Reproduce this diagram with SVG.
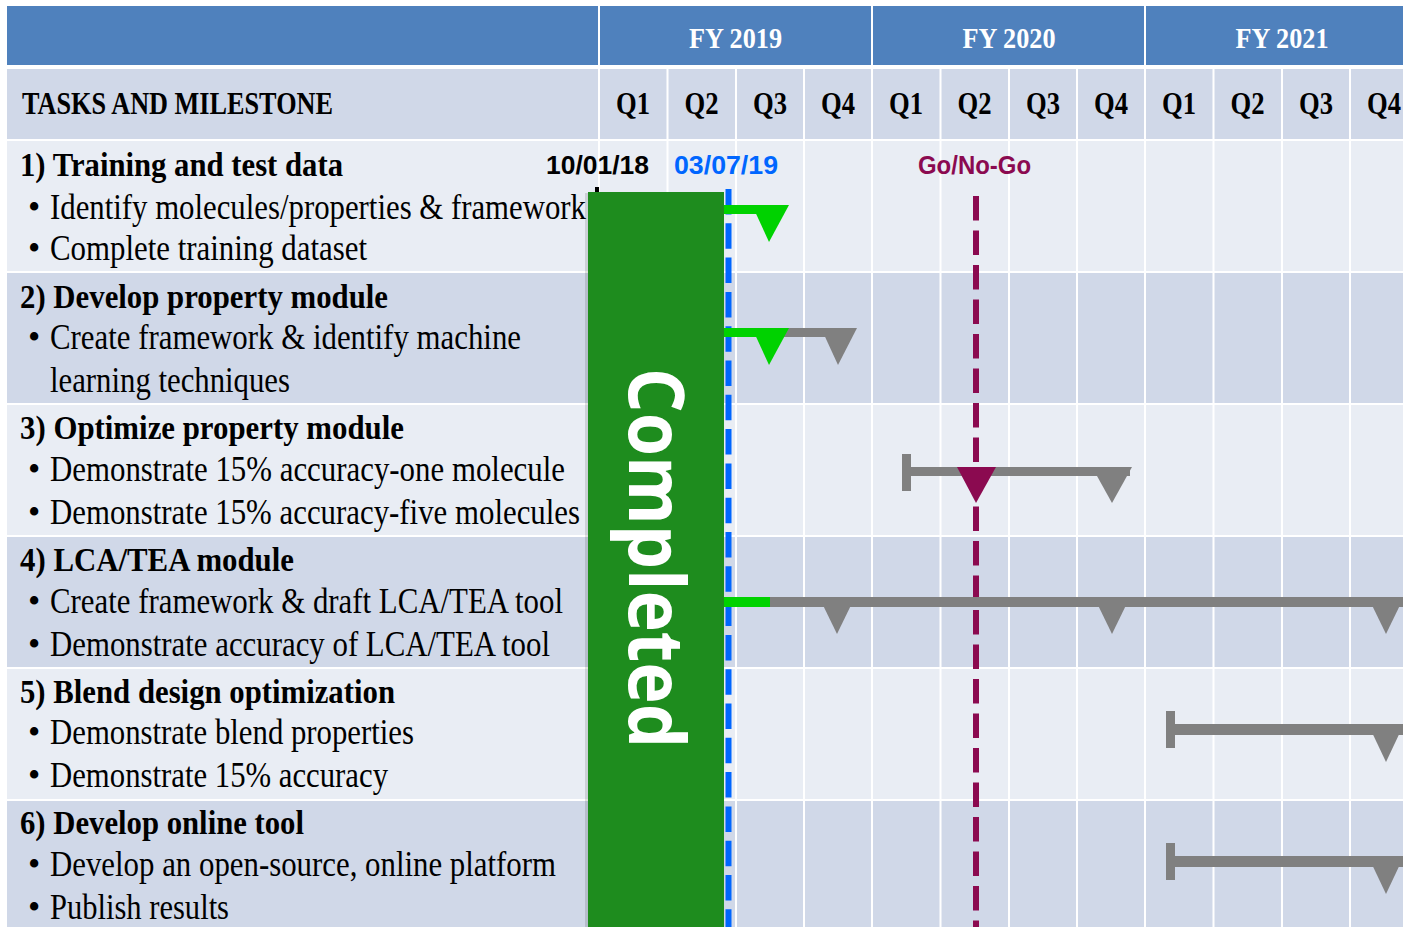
<svg xmlns="http://www.w3.org/2000/svg" width="1403" height="927" viewBox="0 0 1403 927">
<defs>
<style>
.hdr{fill:#4F81BD}
.sub{fill:#D0D8E8}
.lt{fill:#E9EDF4}
.dk{fill:#D0D8E8}
.vl{stroke:#FFFFFF;stroke-width:2}
.ser{font-family:"Liberation Serif","Times New Roman",serif;fill:#000}
.b{font-weight:bold;font-size:34px}
.r{font-size:35px}
.fy{font-family:"Liberation Serif","Times New Roman",serif;font-weight:bold;font-size:30px;fill:#FFFFFF}
.q{font-family:"Liberation Serif","Times New Roman",serif;font-weight:bold;font-size:31px;fill:#000}
.date{font-family:"Liberation Sans",Arial,sans-serif;font-weight:bold;font-size:25px}
.grey{fill:#808080}
.grn{fill:#00D200}
</style>
</defs>
<rect x="0" y="0" width="1403" height="927" fill="#FFFFFF"/>
<g id="table">
<rect class="hdr" x="7" y="6" width="1396" height="59"/>
<rect class="sub" x="7" y="69" width="1396" height="70"/>
<rect class="lt" x="7" y="141" width="1396" height="130"/>
<rect class="dk" x="7" y="273" width="1396" height="130"/>
<rect class="lt" x="7" y="405" width="1396" height="130"/>
<rect class="dk" x="7" y="537" width="1396" height="130"/>
<rect class="lt" x="7" y="669" width="1396" height="130"/>
<rect class="dk" x="7" y="801" width="1396" height="126"/>
<g class="vl">
<line x1="599" y1="6" x2="599" y2="927"/>
<line x1="872" y1="6" x2="872" y2="927"/>
<line x1="1145" y1="6" x2="1145" y2="927"/>
<line x1="667.5" y1="69" x2="667.5" y2="927"/>
<line x1="736" y1="69" x2="736" y2="927"/>
<line x1="804" y1="69" x2="804" y2="927"/>
<line x1="940.5" y1="69" x2="940.5" y2="927"/>
<line x1="1009" y1="69" x2="1009" y2="927"/>
<line x1="1077" y1="69" x2="1077" y2="927"/>
<line x1="1213.5" y1="69" x2="1213.5" y2="927"/>
<line x1="1282" y1="69" x2="1282" y2="927"/>
<line x1="1350" y1="69" x2="1350" y2="927"/>
</g>
<text class="fy" x="735.5" y="48" text-anchor="middle" textLength="93" lengthAdjust="spacingAndGlyphs">FY 2019</text>
<text class="fy" x="1009" y="48" text-anchor="middle" textLength="93" lengthAdjust="spacingAndGlyphs">FY 2020</text>
<text class="fy" x="1282" y="48" text-anchor="middle" textLength="93" lengthAdjust="spacingAndGlyphs">FY 2021</text>
<text class="q" x="22" y="114" textLength="311" lengthAdjust="spacingAndGlyphs">TASKS AND MILESTONE</text>
<g class="q" text-anchor="middle">
<text x="633" y="114" textLength="34" lengthAdjust="spacingAndGlyphs">Q1</text>
<text x="701.5" y="114" textLength="34" lengthAdjust="spacingAndGlyphs">Q2</text>
<text x="770" y="114" textLength="34" lengthAdjust="spacingAndGlyphs">Q3</text>
<text x="838" y="114" textLength="34" lengthAdjust="spacingAndGlyphs">Q4</text>
<text x="906" y="114" textLength="34" lengthAdjust="spacingAndGlyphs">Q1</text>
<text x="974.5" y="114" textLength="34" lengthAdjust="spacingAndGlyphs">Q2</text>
<text x="1043" y="114" textLength="34" lengthAdjust="spacingAndGlyphs">Q3</text>
<text x="1111" y="114" textLength="34" lengthAdjust="spacingAndGlyphs">Q4</text>
<text x="1179" y="114" textLength="34" lengthAdjust="spacingAndGlyphs">Q1</text>
<text x="1247.5" y="114" textLength="34" lengthAdjust="spacingAndGlyphs">Q2</text>
<text x="1316" y="114" textLength="34" lengthAdjust="spacingAndGlyphs">Q3</text>
<text x="1384" y="114" textLength="34" lengthAdjust="spacingAndGlyphs">Q4</text>
</g>
</g>
<g id="task1" class="ser">
<text class="b" x="20" y="176" textLength="323" lengthAdjust="spacingAndGlyphs">1) Training and test data</text>
<text class="r" x="28" y="219">•</text>
<text class="r" x="50" y="219" textLength="536" lengthAdjust="spacingAndGlyphs">Identify molecules/properties &amp; framework</text>
<text class="r" x="28" y="260">•</text>
<text class="r" x="50" y="260" textLength="317" lengthAdjust="spacingAndGlyphs">Complete training dataset</text>
</g>
<g id="task2" class="ser">
<text class="b" x="20" y="308" textLength="368" lengthAdjust="spacingAndGlyphs">2) Develop property module</text>
<text class="r" x="28" y="349">•</text>
<text class="r" x="50" y="349" textLength="471" lengthAdjust="spacingAndGlyphs">Create framework &amp; identify machine</text>
<text class="r" x="50" y="392" textLength="240" lengthAdjust="spacingAndGlyphs">learning techniques</text>
</g>
<g id="task3" class="ser">
<text class="b" x="20" y="439" textLength="384" lengthAdjust="spacingAndGlyphs">3) Optimize property module</text>
<text class="r" x="28" y="481">•</text>
<text class="r" x="50" y="481" textLength="515" lengthAdjust="spacingAndGlyphs">Demonstrate 15% accuracy-one molecule</text>
<text class="r" x="28" y="524">•</text>
<text class="r" x="50" y="524" textLength="530" lengthAdjust="spacingAndGlyphs">Demonstrate 15% accuracy-five molecules</text>
</g>
<g id="task4" class="ser">
<text class="b" x="20" y="571" textLength="274" lengthAdjust="spacingAndGlyphs">4) LCA/TEA module</text>
<text class="r" x="28" y="613">•</text>
<text class="r" x="50" y="613" textLength="513" lengthAdjust="spacingAndGlyphs">Create framework &amp; draft LCA/TEA tool</text>
<text class="r" x="28" y="656">•</text>
<text class="r" x="50" y="656" textLength="500" lengthAdjust="spacingAndGlyphs">Demonstrate accuracy of LCA/TEA tool</text>
</g>
<g id="task5" class="ser">
<text class="b" x="20" y="703" textLength="375" lengthAdjust="spacingAndGlyphs">5) Blend design optimization</text>
<text class="r" x="28" y="744">•</text>
<text class="r" x="50" y="744" textLength="364" lengthAdjust="spacingAndGlyphs">Demonstrate blend properties</text>
<text class="r" x="28" y="787">•</text>
<text class="r" x="50" y="787" textLength="338" lengthAdjust="spacingAndGlyphs">Demonstrate 15% accuracy</text>
</g>
<g id="task6" class="ser">
<text class="b" x="20" y="834" textLength="284" lengthAdjust="spacingAndGlyphs">6) Develop online tool</text>
<text class="r" x="28" y="876">•</text>
<text class="r" x="50" y="876" textLength="506" lengthAdjust="spacingAndGlyphs">Develop an open-source, online platform</text>
<text class="r" x="28" y="919">•</text>
<text class="r" x="50" y="919" textLength="179" lengthAdjust="spacingAndGlyphs">Publish results</text>
</g>
<g id="labels">
<text class="date" x="649" y="174" text-anchor="end" textLength="103" lengthAdjust="spacingAndGlyphs" fill="#000000">10/01/18</text>
<text class="date" x="674" y="174" textLength="104" lengthAdjust="spacingAndGlyphs" fill="#0066FF">03/07/19</text>
<text class="date" x="918" y="174" textLength="113" lengthAdjust="spacingAndGlyphs" fill="#8B0A50">Go/No-Go</text>
</g>
<g id="connectors">
<line x1="597" y1="187" x2="597" y2="927" stroke="#000000" stroke-width="4"/>
<line x1="728.5" y1="189" x2="728.5" y2="927" stroke="#0066FF" stroke-width="6" stroke-dasharray="25.5 8.8"/>
<line x1="976" y1="196" x2="976" y2="927" stroke="#8B0A50" stroke-width="6" stroke-dasharray="24.5 10"/>
</g>
<g id="completed">
<rect x="585" y="193" width="139" height="734" fill="#000000" opacity="0.12"/>
<rect x="588" y="192" width="136" height="735" fill="#1E8C1E"/>
<text transform="translate(629,368) rotate(90)" x="0" y="0" font-family="'Open Sans','DejaVu Sans',sans-serif" font-weight="bold" font-size="77" fill="#FFFFFF" textLength="380" lengthAdjust="spacingAndGlyphs">Completed</text>
</g>
<g id="bars">
<rect class="grn" x="724" y="205" width="46" height="9"/>
<polygon class="grn" points="752,205 789,205 769,242"/>
<rect class="grey" x="780" y="328" width="60" height="9"/>
<rect class="grn" x="724" y="328" width="59" height="9"/>
<polygon class="grn" points="752,328 789,328 769,365"/>
<polygon class="grey" points="821,328 857,328 838,365"/>
<rect class="grey" x="902" y="454" width="9" height="37"/>
<rect class="grey" x="902" y="467" width="228" height="9"/>
<polygon fill="#8B0A50" points="957,467 996,467 976,503"/>
<polygon class="grey" points="1092,467 1132,467 1112,503"/>
<rect class="grey" x="724" y="597" width="679" height="10"/>
<rect class="grn" x="724" y="597" width="46" height="10"/>
<polygon class="grey" points="819,597 855,597 837,634"/>
<polygon class="grey" points="1094,597 1130,597 1112,634"/>
<polygon class="grey" points="1368,597 1404,597 1386,634"/>
<rect class="grey" x="1166" y="711" width="9" height="37"/>
<rect class="grey" x="1166" y="724" width="237" height="11"/>
<polygon class="grey" points="1368,724 1404,724 1386,762"/>
<rect class="grey" x="1166" y="843" width="9" height="37"/>
<rect class="grey" x="1166" y="856" width="237" height="11"/>
<polygon class="grey" points="1368,856 1404,856 1386,894"/>
</g>
</svg>
